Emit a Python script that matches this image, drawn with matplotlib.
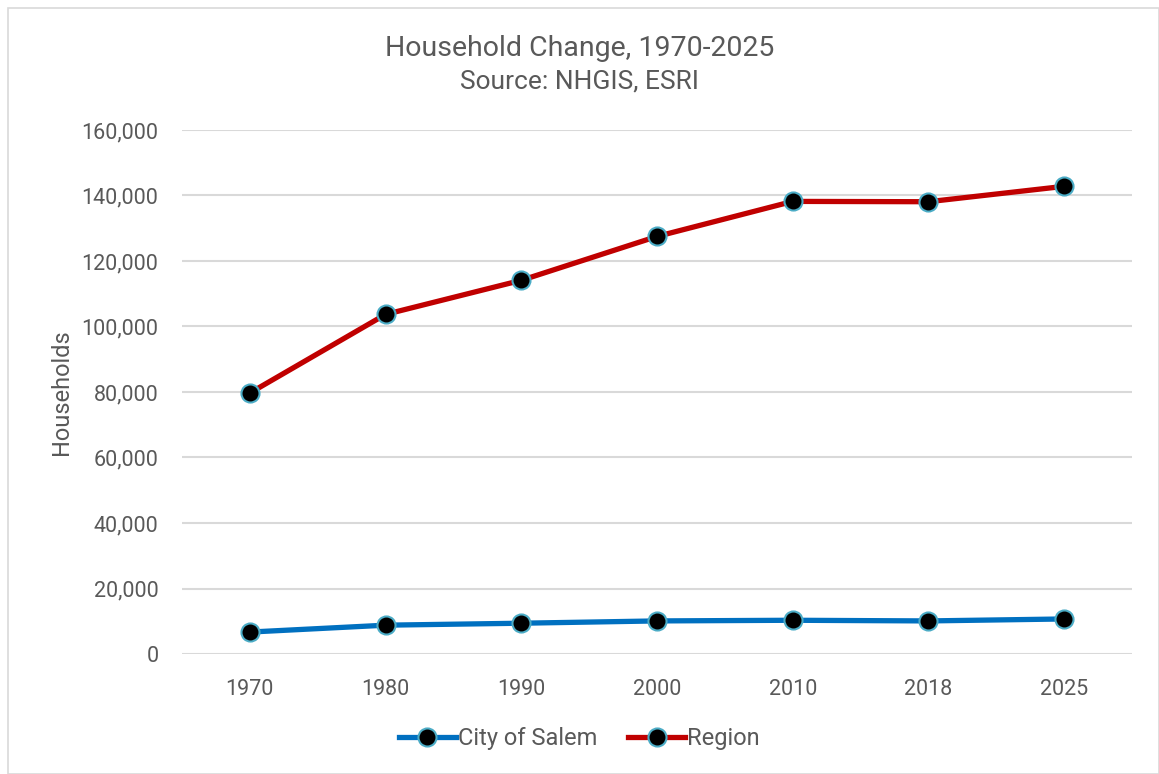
import matplotlib
matplotlib.use("Agg")
import matplotlib.pyplot as plt
from matplotlib.patches import Rectangle
from matplotlib.ticker import FuncFormatter, MultipleLocator

years = ["1970", "1980", "1990", "2000", "2010", "2018", "2025"]
salem = [6700, 8800, 9400, 10100, 10300, 10100, 10700]
region = [79700, 103700, 114100, 127500, 138200, 138100, 142800]

plt.rcParams['font.family'] = ['Roboto', 'DejaVu Sans']
TXT = '#595959'

fig = plt.figure(figsize=(11.59, 7.74), dpi=100)
ax = fig.add_axes([182/1159, 1-654/774, 950/1159, 524/774])

x = list(range(len(years)))
mk = dict(marker='o', markersize=13, markerfacecolor='black',
          markeredgecolor='#4bacc6', markeredgewidth=1.5)
ax.plot(x, salem, color='#0070c0', lw=3.8, label='City of Salem', **mk, zorder=3)
ax.plot(x, region, color='#c00000', lw=3.8, label='Region', **mk, zorder=3)

ax.set_xlim(-0.5, 6.5)
ax.set_ylim(0, 160000)
ax.yaxis.set_major_locator(MultipleLocator(20000))
ax.yaxis.set_major_formatter(FuncFormatter(lambda v, p: f"{int(v):,}"))
ax.set_xticks(x)
ax.set_xticklabels(years)
ax.grid(axis='y', color='#d9d9d9', lw=1.5)
ax.set_axisbelow(True)
for s in ax.spines.values():
    s.set_visible(False)
ax.tick_params(length=0, labelsize=15.5, colors=TXT, pad=17)
ax.tick_params(axis='x', pad=18)
ax.set_ylabel('Households', fontsize=17, color=TXT, labelpad=6)

fig.text(0.5, 1-48/774, 'Household Change, 1970-2025', ha='center', va='center',
         fontsize=20.5, color=TXT)
fig.text(0.5, 1-82/774, 'Source: NHGIS, ESRI', ha='center', va='center',
         fontsize=19, color=TXT)

leg = fig.legend(loc='center', bbox_to_anchor=(0.5, 1-739/774), ncol=2, frameon=False,
                 fontsize=17, handlelength=2.4, columnspacing=1.3, handletextpad=0.1,
                 labelcolor=TXT)

fig.patches.append(Rectangle((8/1159, 0), 1-8/1159, 1-8/774, transform=fig.transFigure,
                             fill=False, edgecolor='#d9d9d9', lw=1.2))
fig.savefig('out.png', dpi=100)
